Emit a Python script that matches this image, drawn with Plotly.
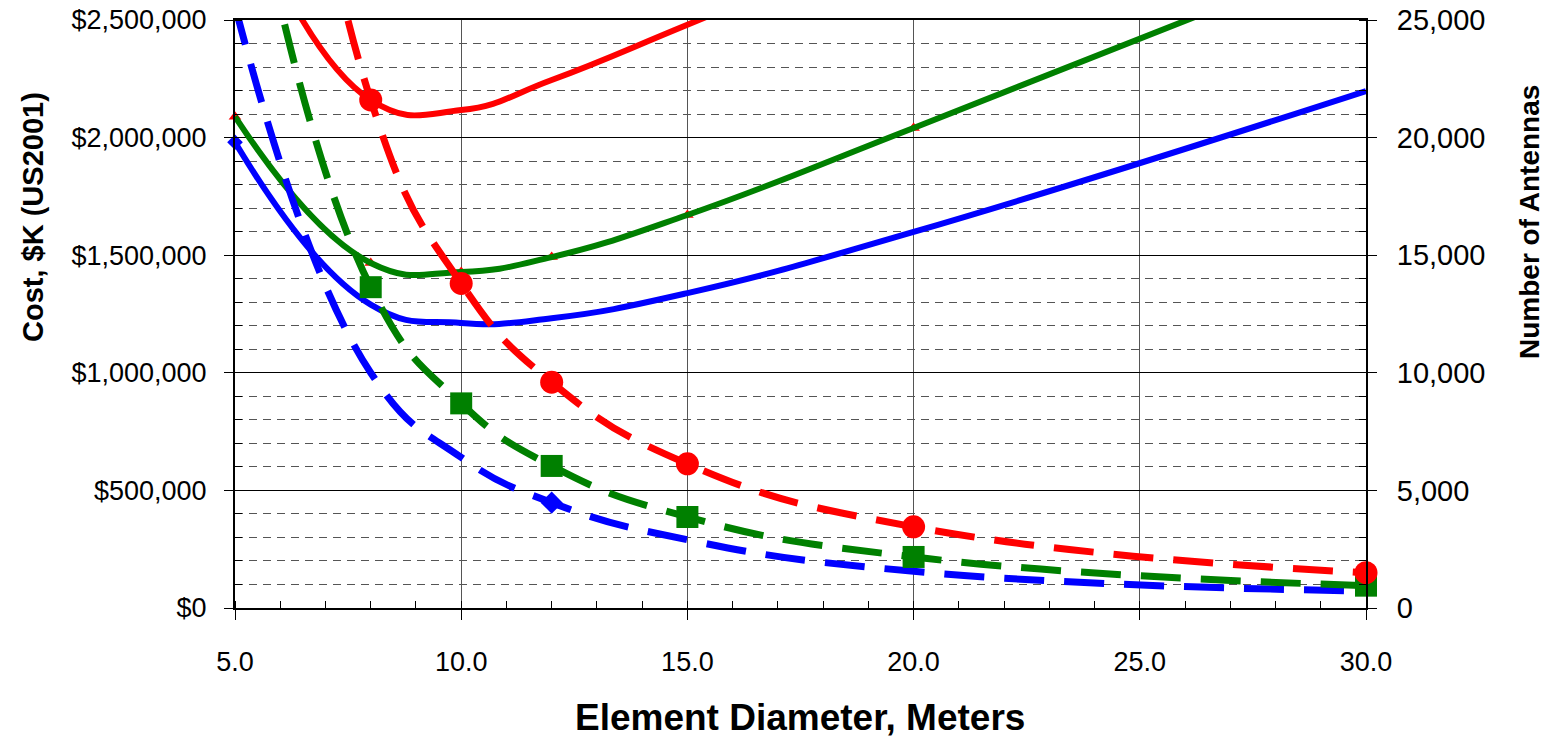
import plotly.graph_objects as go

# ---- data ----
diameter = [5, 8, 10, 12, 15, 20, 30]

cost_blue = [1980000, 1290000, 1212000, 1232000, 1339000, 1599000, 2198000]
cost_green = [2089000, 1467000, 1429000, 1492000, 1671000, 2041000, 2800000]
cost_red = [3100000, 2160000, 2117000, 2245000, 2480000, 2880000, 3700000]

antennas_blue = [25600, 10000, 6400, 4480, 2900, 1560, 720]
antennas_green = [34800, 13640, 8700, 6040, 3870, 2170, 950]
antennas_red = [55200, 21600, 13800, 9600, 6130, 3450, 1500]

cost_ticks = [0, 500000, 1000000, 1500000, 2000000, 2500000]
cost_labels = ["$0", "$500,000", "$1,000,000", "$1,500,000", "$2,000,000", "$2,500,000"]
ant_ticks = [0, 5000, 10000, 15000, 20000, 25000]
x_ticks = [5, 10, 15, 20, 25, 30]

BLUE = "#0000ff"
GREEN = "#008000"
RED = "#ff0000"
FONT = "Liberation Sans, Arial, sans-serif"

DASH = "40px,20px"
SMOOTH = 1.3

fig = go.Figure()

# ---- cost (solid, left axis) ----
fig.add_trace(go.Scatter(x=diameter, y=cost_red, mode="lines",
                         line=dict(color=RED, width=6, shape="spline", smoothing=SMOOTH),
                         hoverinfo="skip"))
tri_x = [d for d in diameter if d <= 20]
tri_y = [c for d, c in zip(diameter, cost_green) if d <= 20]
fig.add_trace(go.Scatter(x=tri_x, y=tri_y, mode="markers",
                         marker=dict(symbol="triangle-up", color=RED, size=11),
                         cliponaxis=False, hoverinfo="skip"))
fig.add_trace(go.Scatter(x=diameter, y=cost_green, mode="lines",
                         line=dict(color=GREEN, width=6, shape="spline", smoothing=SMOOTH),
                         hoverinfo="skip"))
fig.add_trace(go.Scatter(x=diameter, y=cost_blue, mode="lines",
                         line=dict(color=BLUE, width=6, shape="spline", smoothing=SMOOTH),
                         hoverinfo="skip"))
fig.add_trace(go.Scatter(x=[diameter[0]], y=[cost_blue[0]], mode="markers",
                         marker=dict(symbol="diamond", color=BLUE, size=12),
                         cliponaxis=False, hoverinfo="skip"))

# ---- number of antennas (dashed, right axis) ----
fig.add_trace(go.Scatter(x=diameter, y=antennas_blue, mode="lines", yaxis="y2",
                         line=dict(color=BLUE, width=7, dash=DASH, shape="spline", smoothing=SMOOTH),
                         hoverinfo="skip"))
fig.add_trace(go.Scatter(x=[diameter[3]], y=[antennas_blue[3]], mode="markers", yaxis="y2",
                         marker=dict(symbol="diamond", color=BLUE, size=17),
                         cliponaxis=False, hoverinfo="skip"))
fig.add_trace(go.Scatter(x=diameter, y=antennas_green, mode="lines", yaxis="y2",
                         line=dict(color=GREEN, width=7, dash=DASH, shape="spline", smoothing=SMOOTH),
                         hoverinfo="skip"))
fig.add_trace(go.Scatter(x=diameter[1:], y=antennas_green[1:], mode="markers", yaxis="y2",
                         marker=dict(symbol="square", color=GREEN, size=22),
                         cliponaxis=False, hoverinfo="skip"))
fig.add_trace(go.Scatter(x=diameter, y=antennas_red, mode="lines", yaxis="y2",
                         line=dict(color=RED, width=7, dash=DASH, shape="spline", smoothing=SMOOTH),
                         hoverinfo="skip"))
fig.add_trace(go.Scatter(x=diameter[1:], y=antennas_red[1:], mode="markers", yaxis="y2",
                         marker=dict(symbol="circle", color=RED, size=23),
                         cliponaxis=False, hoverinfo="skip"))

L, R, T, B = 235, 187, 20, 132
W, H = 1553, 740
pw = W - L - R
ph = H - T - B

fig.update_layout(
    width=W, height=H,
    margin=dict(l=L, r=R, t=T, b=B, pad=0, autoexpand=False),
    paper_bgcolor="white", plot_bgcolor="white",
    showlegend=False,
    font=dict(family=FONT, color="black"),
    xaxis=dict(
        range=[5, 30], tickvals=x_ticks, tickformat=".1f",
        showline=True, linecolor="black", linewidth=2, mirror=True,
        ticks="outside", ticklen=10, tickwidth=1, tickcolor="black",
        ticklabelstandoff=19, automargin=False,
        tickfont=dict(size=27, family=FONT),
        showgrid=True, gridcolor="#555555", gridwidth=1,
        minor=dict(dtick=1, ticks="inside", ticklen=7, tickcolor="black", showgrid=False),
        zeroline=False, fixedrange=True,
    ),
    yaxis=dict(
        range=[0, 2500000], tickvals=cost_ticks, ticktext=cost_labels,
        showline=True, linecolor="black", linewidth=2, mirror=True,
        ticks="outside", ticklen=9, tickwidth=1, tickcolor="black",
        ticklabelstandoff=12, automargin=False,
        tickfont=dict(size=27, family=FONT),
        showgrid=True, gridcolor="black", gridwidth=1,
        minor=dict(dtick=100000, ticks="inside", ticklen=7, tickcolor="black",
                   showgrid=True, gridcolor="#555555", gridwidth=1, griddash="8px,6px"),
        zeroline=False, fixedrange=True,
    ),
    yaxis2=dict(
        range=[0, 25000], tickvals=ant_ticks, tickformat=",d",
        overlaying="y", side="right",
        showline=True, linecolor="black", linewidth=2,
        ticks="outside", ticklen=9, tickwidth=1, tickcolor="black",
        ticklabelstandoff=14, automargin=False,
        tickfont=dict(size=29, family=FONT),
        showgrid=False,
        minor=dict(dtick=1000, ticks="inside", ticklen=7, tickcolor="black", showgrid=False),
        zeroline=False, fixedrange=True,
    ),
    annotations=[
        dict(text="<b>Element Diameter, Meters</b>", xref="paper", yref="paper",
             x=(800 - L) / pw, y=(H - B - 717) / ph, showarrow=False,
             xanchor="center", yanchor="middle", font=dict(size=37, family=FONT)),
        dict(text="<b>Cost, $K (US2001)</b>", xref="paper", yref="paper",
             x=(33 - L) / pw, y=(H - B - 217) / ph, showarrow=False, textangle=-90,
             xanchor="center", yanchor="middle", font=dict(size=29, family=FONT)),
        dict(text="<b>Number of Antennas</b>", xref="paper", yref="paper",
             x=(1529 - L) / pw, y=(H - B - 222) / ph, showarrow=False, textangle=-90,
             xanchor="center", yanchor="middle", font=dict(size=28, family=FONT)),
    ],
)

fig.write_html("out.html", config={"displayModeBar": False},
               post_script="document.body.style.margin='0';document.body.style.overflow='hidden';")
